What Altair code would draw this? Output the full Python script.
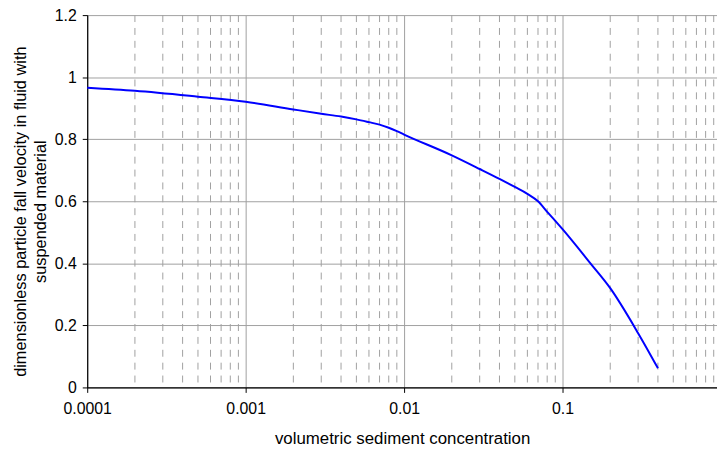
import altair as alt
import pandas as pd

# Curve
conc = [0.0001, 0.0002, 0.0005, 0.001, 0.002, 0.003, 0.004, 0.005, 0.006, 0.007,
        0.008, 0.009, 0.01, 0.02, 0.03, 0.04, 0.05, 0.06, 0.07, 0.08, 0.09, 0.1,
        0.15, 0.2, 0.3, 0.4]
velocity = [0.966, 0.956, 0.937, 0.921, 0.896, 0.882, 0.873, 0.864, 0.855, 0.847,
            0.837, 0.826, 0.815, 0.748, 0.704, 0.672, 0.646, 0.624, 0.600, 0.566,
            0.537, 0.51, 0.40, 0.32, 0.175, 0.062]

major_ticks = [0.0001, 0.001, 0.01, 0.1]
minor_ticks = [m * d for d in [0.0001, 0.001, 0.01, 0.1] for m in range(2, 10)]
y_ticks = [0, 0.2, 0.4, 0.6, 0.8, 1.0, 1.2]

x_title = "volumetric sediment concentration"
y_title = ["dimensionless particle fall velocity in fluid with", "suspended material"]

FONT = "Liberation Sans"
GRID = "#a0a0a0"

x_scale = alt.Scale(type="log", domain=[0.0001, 0.944], nice=False)
y_scale = alt.Scale(domain=[0, 1.2], nice=False, zero=True)

x_axis = alt.Axis(values=major_ticks, format="~g", title=x_title, grid=True,
                  labelFlush=False, labelOverlap=False, labelPadding=8,
                  titlePadding=15, titleFontSize=17)
y_axis = alt.Axis(values=y_ticks, format="~g", title=y_title, grid=True,
                  labelPadding=6, titlePadding=6, titleLineHeight=20,
                  titleFontSize=16.5, titleY=198)

curve = pd.DataFrame({"c": conc, "v": velocity})
minor_df = pd.DataFrame({"c": minor_ticks})

minor = alt.Chart(minor_df).mark_rule(color=GRID, strokeDash=[7, 6], strokeWidth=1).encode(
    x=alt.X("c:Q", scale=x_scale, axis=x_axis)
)

line = alt.Chart(curve).mark_line(color="#0000ff", strokeWidth=2, interpolate="monotone").encode(
    x=alt.X("c:Q", scale=x_scale, axis=x_axis),
    y=alt.Y("v:Q", scale=y_scale, axis=y_axis),
)

chart = alt.layer(minor, line).properties(
    width=636,
    height=376,
    autosize=alt.AutoSizeParams(type="none"),
    padding={"left": 80, "top": 5, "right": 0, "bottom": 60},
    background="white",
).configure_view(stroke=None).configure_axis(
    labelFont=FONT, titleFont=FONT, labelFontSize=16,
    labelColor="black", titleColor="black", titleFontWeight="normal",
    domainColor="black", tickColor="black", tickSize=5, gridColor=GRID,
    gridWidth=1, domainWidth=1.2,
)

chart.save("out.html", embed_options={"renderer": "svg", "actions": False})
